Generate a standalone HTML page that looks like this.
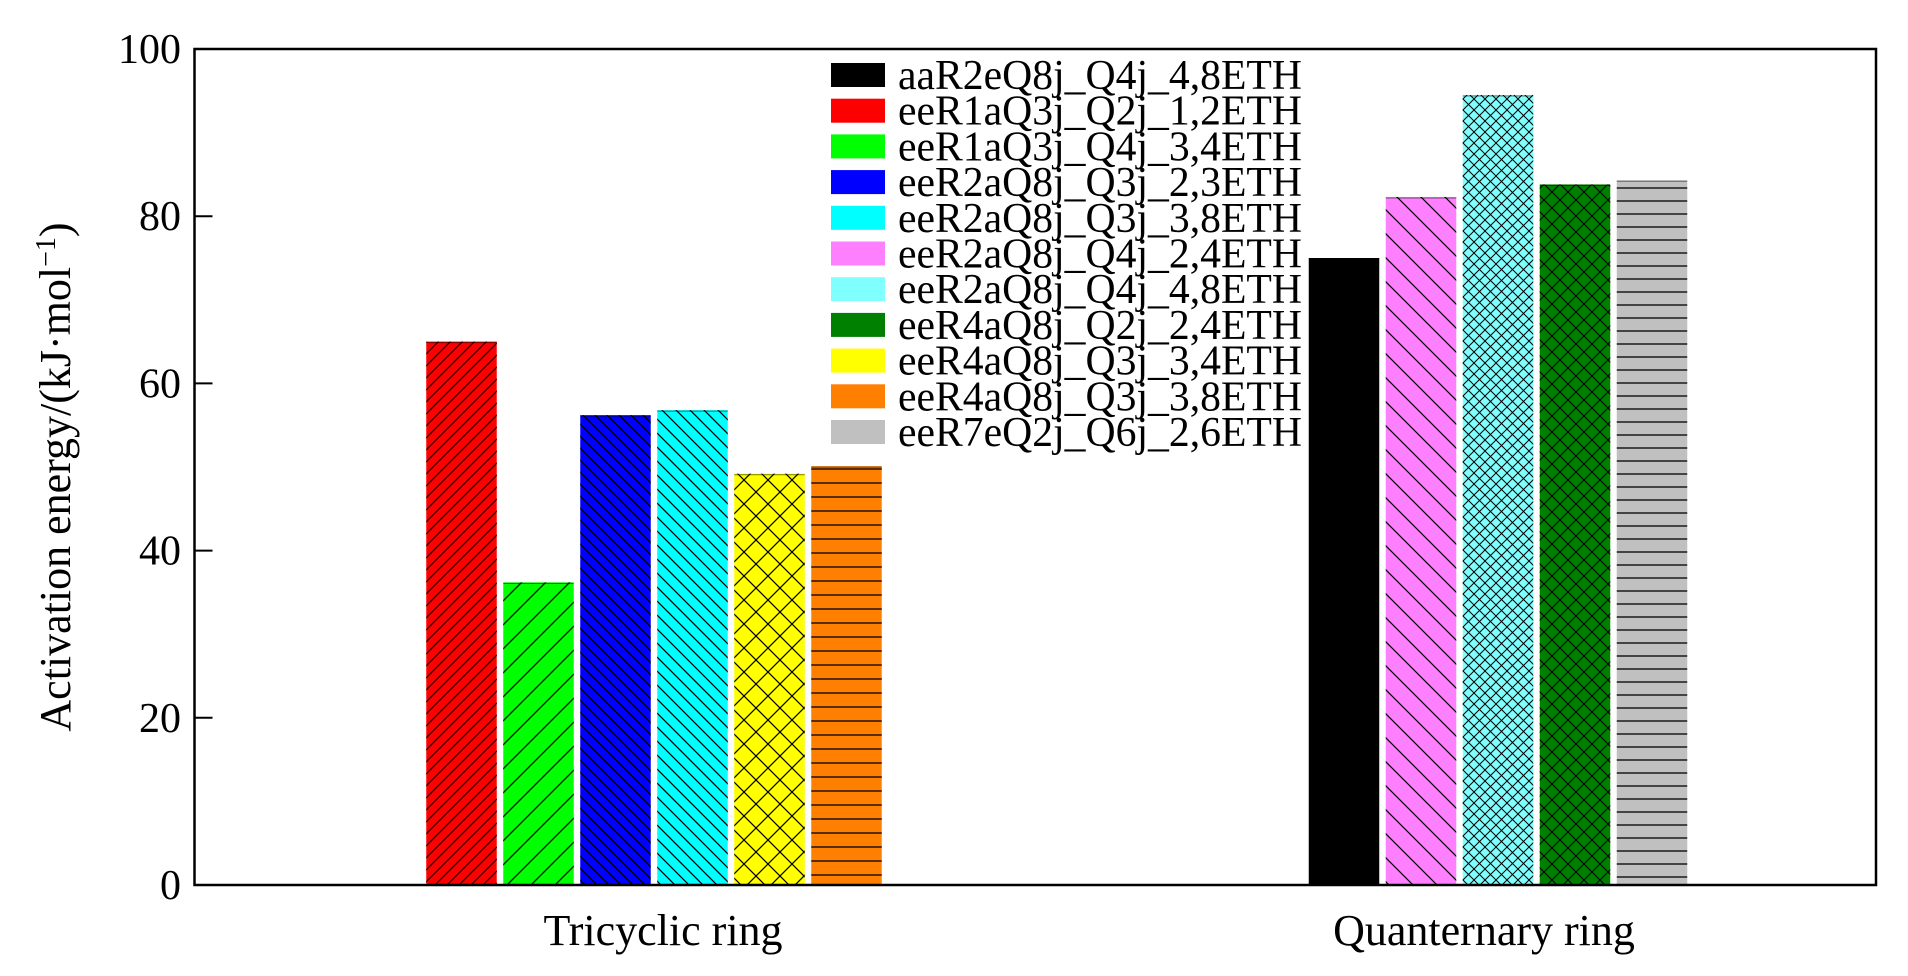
<!DOCTYPE html>
<html><head><meta charset="utf-8"><style>
html,body{margin:0;padding:0;background:#fff}
svg{display:block}
text{font-family:"Liberation Serif",serif;fill:#000}
</style></head><body>
<svg id="chart" width="1908" height="976" viewBox="0 0 1908 976" xmlns="http://www.w3.org/2000/svg">
<defs>
<pattern id="p-fwd12" patternUnits="userSpaceOnUse" width="12" height="12"><path d="M-3,3 L3,-3 M0,12 L12,0 M9,15 L15,9" stroke="#000" stroke-width="1.2"/></pattern>
<pattern id="p-fwd24" patternUnits="userSpaceOnUse" width="24" height="24"><path d="M-3,3 L3,-3 M0,24 L24,0 M21,27 L27,21" stroke="#000" stroke-width="1.2"/></pattern>
<pattern id="p-back12" patternUnits="userSpaceOnUse" width="12" height="12"><path d="M-3,9 L3,15 M0,0 L12,12 M9,-3 L15,3" stroke="#000" stroke-width="1.2"/></pattern>
<pattern id="p-back14" patternUnits="userSpaceOnUse" width="14" height="14"><path d="M-3,11 L3,17 M0,0 L14,14 M11,-3 L17,3" stroke="#000" stroke-width="1.2"/></pattern>
<pattern id="p-back24" patternUnits="userSpaceOnUse" width="24" height="24"><path d="M-3,21 L3,27 M0,0 L24,24 M21,-3 L27,3" stroke="#000" stroke-width="1.2"/></pattern>
<pattern id="p-cross24" patternUnits="userSpaceOnUse" width="24" height="24"><path d="M0,0 L24,24 M0,24 L24,0" stroke="#000" stroke-width="1.2"/></pattern>
<pattern id="p-cross16" patternUnits="userSpaceOnUse" width="16" height="16"><path d="M0,0 L16,16 M0,16 L16,0" stroke="#000" stroke-width="1.1"/></pattern>
<pattern id="p-cross11" patternUnits="userSpaceOnUse" width="11" height="11"><path d="M0,0 L11,11 M0,11 L11,0" stroke="#000" stroke-width="1"/></pattern>
<pattern id="p-horiz14" patternUnits="userSpaceOnUse" width="14" height="14"><path d="M0,7 L14,7" stroke="#000" stroke-width="1.3"/></pattern>
<pattern id="p-horiz13" patternUnits="userSpaceOnUse" width="13" height="13"><path d="M0,6 L13,6" stroke="#000" stroke-width="1.3"/></pattern>
</defs>
<g id="plot"></g>
</svg>
<script>
const categories = ["Tricyclic ring", "Quanternary ring"];
const seriesNames = ["aaR2eQ8j_Q4j_4,8ETH","eeR1aQ3j_Q2j_1,2ETH","eeR1aQ3j_Q4j_3,4ETH","eeR2aQ8j_Q3j_2,3ETH","eeR2aQ8j_Q3j_3,8ETH","eeR2aQ8j_Q4j_2,4ETH","eeR2aQ8j_Q4j_4,8ETH","eeR4aQ8j_Q2j_2,4ETH","eeR4aQ8j_Q3j_3,4ETH","eeR4aQ8j_Q3j_3,8ETH","eeR7eQ2j_Q6j_2,6ETH"];
const seriesColors = ["#000000","#ff0000","#00ff00","#0000ff","#00ffff","#ff80ff","#80ffff","#008000","#ffff00","#ff8000","#c0c0c0"];
const seriesPatterns = ["", "p-fwd12","p-fwd24","p-back12","p-back14","p-back24","p-cross11","p-cross16","p-cross24","p-horiz14","p-horiz13"];
const tricyclicValues = [null,65.0,36.2,56.2,56.8,null,null,null,49.2,50.1,null];
const quaternaryValues = [75.0,null,null,null,null,82.3,94.5,83.8,null,null,84.3];
const yTicks = [0,20,40,60,80,100];

const NS="http://www.w3.org/2000/svg";
const g=document.getElementById('plot');
const L=194.5,R=1876,T=49,B=885;
const yS=v=>B-(v/100)*(B-T);
const groupCenters=[654,1498];
const xS=(gi,k,n)=>groupCenters[gi]+(k-(n-1)/2)*77;
function mk(tag,attrs){const e=document.createElementNS(NS,tag);for(const k in attrs)e.setAttribute(k,attrs[k]);g.appendChild(e);return e;}

[tricyclicValues,quaternaryValues].forEach((vals,gi)=>{
  const idx=[];vals.forEach((v,i)=>{if(v!==null)idx.push(i);});
  idx.forEach((i,k)=>{
    const cx=xS(gi,k,idx.length),w=70.5,y=yS(vals[i]);
    const r=mk('rect',{x:cx-w/2,y:y,width:w,height:B-y,fill:seriesColors[i]});
    
    
    if(seriesPatterns[i]){
      const h=mk('rect',{x:cx-w/2,y:y,width:w,height:B-y,fill:'url(#'+seriesPatterns[i]+')'});
      
      
    }
    const top=mk('line',{x1:cx-w/2,x2:cx+w/2,y1:y+1,y2:y+1,stroke:'#000','stroke-width':1,opacity:0.5});
    
    
  });
});

const fr=mk('rect',{x:L,y:T,width:R-L,height:B-T,fill:'none',stroke:'#000','stroke-width':2.5});


yTicks.forEach(t=>{
  const y=yS(t);
  const tk=mk('line',{x1:L,x2:L+18,y1:y,y2:y,stroke:'#000','stroke-width':2});
  
  
  const tx=mk('text',{x:181,y:y+14,'font-size':42,'text-anchor':'end'});
  tx.textContent=t;
  
  
});
categories.forEach((c,i)=>{
  const tx=mk('text',{x:[663,1484][i],y:945,'font-size':44,'text-anchor':'middle'});
  tx.textContent=c;
  
  
});
const yt=mk('text',{x:0,y:0,'font-size':44,'text-anchor':'middle',transform:'translate(70,477) rotate(-90)'});


yt.innerHTML='Activation energy/(kJ·mol<tspan dy="-15" font-size="28">−1</tspan><tspan dy="15">)</tspan>';

seriesNames.forEach((n,i)=>{
  const cy=75+i*35.7;
  const sw=mk('rect',{x:831,y:cy-12,width:54,height:24,fill:seriesColors[i]});
  
  
  const tx=mk('text',{x:898,y:cy+14,'font-size':42,textLength:404,lengthAdjust:'spacingAndGlyphs'});
  tx.textContent=n;
  
  
});
</script>
</body></html>
